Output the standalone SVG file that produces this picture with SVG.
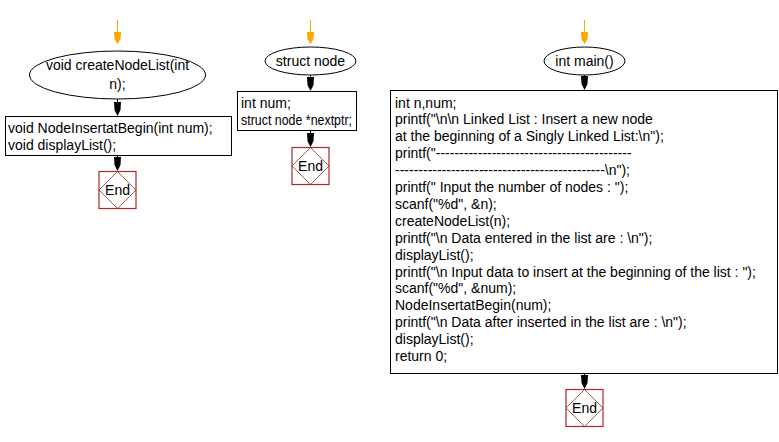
<svg xmlns="http://www.w3.org/2000/svg" xmlns:xlink="http://www.w3.org/1999/xlink" width="779" height="442" viewBox="0 0 779 442">
<style>
  text { font-family: "Liberation Sans", Arial, sans-serif; font-size: 14px; fill: #000; }
  .c { text-anchor: middle; }
  .shape { fill: #fff; stroke: #000; stroke-width: 1; }
  .endbox { fill: #fff; stroke: #a52a2a; stroke-width: 1.2; }
  .enddia { fill: none; stroke: #a52a2a; stroke-width: 0.8; }
  .oline { stroke: #ffa500; stroke-width: 1; fill: none; }
  .bline { stroke: #000; stroke-width: 1; fill: none; }
</style>
<defs>
  <path id="headB" d="M-3.5,-14 L3.5,-14 L3,-6 L0,0 L-3,-6 Z" fill="#000"/>
  <path id="headO" d="M-3.5,-12 L3.5,-12 L3,-5 L0,0 L-3,-5 Z" fill="#ffa500"/>
  <g id="endShape">
    <rect class="endbox" x="-18.5" y="0.5" width="37" height="37"/>
    <path class="enddia" d="M0,0.5 L18.5,19 L0,37.5 L-18.5,19 Z"/>
    <text class="c" x="0" y="24">End</text>
  </g>
</defs>
<rect width="779" height="442" fill="#fff"/>

<g id="connectors">
  <!-- left -->
  <line class="oline" x1="117.5" y1="20" x2="117.5" y2="34"/>
  <use xlink:href="#headO" transform="translate(117.5,44)"/>
  <line class="bline" x1="117.5" y1="99" x2="117.5" y2="104"/>
  <use xlink:href="#headB" transform="translate(117.5,116)"/>
  <line class="bline" x1="117.5" y1="155" x2="117.5" y2="159"/>
  <use xlink:href="#headB" transform="translate(117.5,171)"/>
  <!-- middle -->
  <line class="oline" x1="310.5" y1="20" x2="310.5" y2="34"/>
  <use xlink:href="#headO" transform="translate(310.5,44)"/>
  <line class="bline" x1="310.5" y1="75" x2="310.5" y2="79"/>
  <use xlink:href="#headB" transform="translate(310.5,91)"/>
  <line class="bline" x1="310.5" y1="131" x2="310.5" y2="135"/>
  <use xlink:href="#headB" transform="translate(310.5,147)"/>
  <!-- right -->
  <line class="oline" x1="584.5" y1="20" x2="584.5" y2="34"/>
  <use xlink:href="#headO" transform="translate(584.5,44)"/>
  <line class="bline" x1="584.5" y1="75" x2="584.5" y2="78"/>
  <use xlink:href="#headB" transform="translate(584.5,90)"/>
  <line class="bline" x1="584.5" y1="373" x2="584.5" y2="377"/>
  <use xlink:href="#headB" transform="translate(584.5,389)"/>
</g>

<!-- left column -->
<g id="createNodeList">
  <ellipse class="shape" cx="117.5" cy="75" rx="88" ry="24"/>
  <text class="c" x="117.5" y="70">void createNodeList(int</text>
  <text class="c" x="117.5" y="89">n);</text>
</g>
<g id="createNodeListBody">
  <rect class="shape" x="5.5" y="116.5" width="226" height="39"/>
  <text x="8" y="133">void NodeInsertatBegin(int num);</text>
  <text x="8" y="150">void displayList();</text>
</g>
<g id="end1" transform="translate(117.5,171)">
  <use xlink:href="#endShape"/>
</g>

<!-- middle column -->
<g id="structNode">
  <ellipse class="shape" cx="310.5" cy="61" rx="45.5" ry="14"/>
  <text class="c" x="310.5" y="66">struct node</text>
</g>
<g id="structNodeBody">
  <rect class="shape" x="237.5" y="91.5" width="119" height="39"/>
  <text x="241" y="108">int num;</text>
  <text x="241" y="125" textLength="111" lengthAdjust="spacingAndGlyphs">struct node *nextptr;</text>
</g>
<g id="end2" transform="translate(310.5,147)">
  <use xlink:href="#endShape"/>
</g>

<!-- right column -->
<g id="main">
  <ellipse class="shape" cx="584.5" cy="61" rx="40.5" ry="14"/>
  <text class="c" x="584.5" y="66">int main()</text>
</g>
<g id="mainBody">
  <rect class="shape" x="390.5" y="90.5" width="387" height="283"/>
  <text x="395" y="107.5">int n,num;</text>
  <text x="395" y="124.4">printf("\n\n Linked List : Insert a new node</text>
  <text x="395" y="141.3">at the beginning of a Singly Linked List:\n");</text>
  <text x="395" y="158.2">printf("------------------------------------------</text>
  <text x="395" y="175.1">---------------------------------------------\n");</text>
  <text x="395" y="192">printf(" Input the number of nodes : ");</text>
  <text x="395" y="208.9">scanf("%d", &amp;n);</text>
  <text x="395" y="225.8">createNodeList(n);</text>
  <text x="395" y="242.7">printf("\n Data entered in the list are : \n");</text>
  <text x="395" y="259.6">displayList();</text>
  <text x="395" y="276.5">printf("\n Input data to insert at the beginning of the list : ");</text>
  <text x="395" y="293.4">scanf("%d", &amp;num);</text>
  <text x="395" y="310.3">NodeInsertatBegin(num);</text>
  <text x="395" y="327.2">printf("\n Data after inserted in the list are : \n");</text>
  <text x="395" y="344.1">displayList();</text>
  <text x="395" y="361">return 0;</text>
</g>
<g id="end3" transform="translate(584.5,389)">
  <use xlink:href="#endShape"/>
</g>
</svg>
